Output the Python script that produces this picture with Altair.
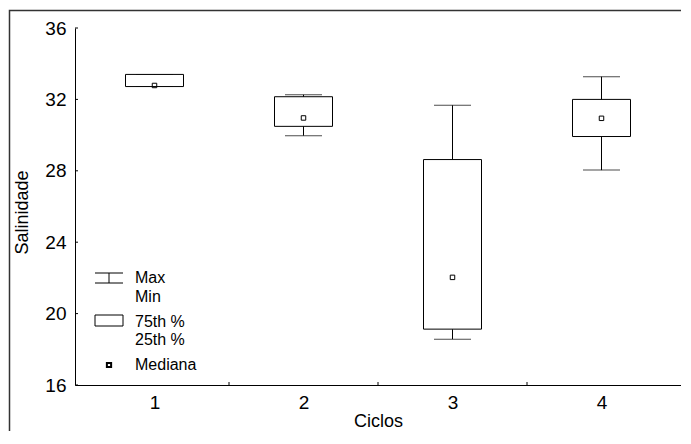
import altair as alt
import pandas as pd

# ---- data ----
ciclos = [1, 2, 3, 4]
maximo = [33.40, 32.26, 31.67, 33.27]
p75 = [33.40, 32.15, 28.63, 32.00]
mediana = [32.78, 30.96, 22.03, 30.94]
p25 = [32.72, 30.49, 19.13, 29.92]
minimo = [32.72, 29.97, 18.57, 28.04]

y_ticks = [16, 20, 24, 28, 32, 36]
x_labels = [1, 2, 3, 4]
x_bounds = [1.5, 2.5, 3.5]
legend_labels = ["Max", "Min", "75th %", "25th %", "Mediana"]

df = pd.DataFrame({"Ciclos": ciclos, "max": maximo, "q75": p75,
                   "med": mediana, "q25": p25, "min": minimo})
df_yt = pd.DataFrame({"v": y_ticks})
df_xb = pd.DataFrame({"b": x_bounds})
one = pd.DataFrame({"a": [0]})

W, H = 606, 357
FONT = "Liberation Sans"

xscale = alt.Scale(domain=[0.5, 4.5], nice=False, zero=False)
yscale = alt.Scale(domain=[16, 36], nice=False, zero=False)
xaxis = alt.Axis(values=x_labels, format="d", ticks=False, grid=False,
                 labelPadding=8, labelFontSize=19, title="Ciclos",
                 titleY=41, titleBaseline="alphabetic")
yaxis = alt.Axis(values=y_ticks, ticks=False, grid=False, labelPadding=9,
                 labelFontSize=19, title="Salinidade",
                 titleX=-53, titleY=184, titleAngle=-90,
                 titleBaseline="middle", titleAlign="center")


def X(f):
    return alt.X(f, scale=xscale, axis=xaxis)


def Y(f):
    return alt.Y(f, scale=yscale, axis=yaxis)


base = alt.Chart(df)

whisker = base.mark_rule(color="black", strokeWidth=1).encode(
    x=X("Ciclos:Q"), y=Y("min:Q"), y2="max:Q")
cap_top = base.mark_tick(orient="horizontal", size=37, thickness=1, color="black").encode(
    x=X("Ciclos:Q"), y=Y("max:Q"))
cap_bot = base.mark_tick(orient="horizontal", size=37, thickness=1, color="black").encode(
    x=X("Ciclos:Q"), y=Y("min:Q"))
box = base.mark_bar(size=58, fill="white", stroke="black", strokeWidth=1).encode(
    x=X("Ciclos:Q"), y=Y("q25:Q"), y2="q75:Q")
med = base.mark_point(shape="square", size=20, filled=False, color="black",
                      strokeWidth=1, opacity=1).encode(
    x=X("Ciclos:Q"), y=Y("med:Q"))

# inward ticks
ytick_marks = alt.Chart(df_yt).mark_rule(color="black").encode(
    y=Y("v:Q"), x=alt.value(0), x2=alt.value(3))
xtick_marks = alt.Chart(df_xb).mark_rule(color="black").encode(
    x=X("b:Q"), y=alt.value(H), y2=alt.value(H - 3))


def hseg(x1, x2, y, color="black", sw=1):
    return alt.Chart(one).mark_rule(color=color, strokeWidth=sw).encode(
        x=alt.value(x1), x2=alt.value(x2), y=alt.value(y))


def vseg(x, y1, y2, color="black", sw=1):
    return alt.Chart(one).mark_rule(color=color, strokeWidth=sw).encode(
        x=alt.value(x), y=alt.value(y1), y2=alt.value(y2))


leg_parts = [
    hseg(20, 48, 245),
    hseg(20, 48, 255),
    vseg(34, 245, 255),
    alt.Chart(one).mark_rect(fill="white", stroke="black", strokeWidth=1).encode(
        x=alt.value(20), x2=alt.value(48), y=alt.value(287), y2=alt.value(298)),
    alt.Chart(one).mark_point(shape="square", size=18, filled=False, color="black",
                              opacity=1).encode(x=alt.value(34), y=alt.value(337)),
]
text_y = [250, 269, 294, 312, 337]
for lab, ty in zip(legend_labels, text_y):
    leg_parts.append(
        alt.Chart(one).mark_text(align="left", baseline="middle", fontSize=16,
                                 font=FONT, color="black").encode(
            x=alt.value(60), y=alt.value(ty), text=alt.value(lab)))

# outer frame (cropped figure border: right and bottom edges fall outside)
frame = alt.Chart(one).mark_rect(fill="transparent", stroke="#333333",
                                 strokeWidth=1.5).encode(
    x=alt.value(-65.5), x2=alt.value(W + 60),
    y=alt.value(-17.5), y2=alt.value(H + 90))

chart = alt.layer(
    frame, whisker, cap_top, cap_bot, box, med, ytick_marks, xtick_marks,
    *leg_parts
).properties(
    width=W, height=H,
    autosize=alt.AutoSizeParams(type="none"),
    padding={"left": 67, "top": 20, "right": 0, "bottom": 46},
).configure_view(stroke=None).configure_axis(
    domainColor="black", domainWidth=1, labelColor="black", titleColor="black",
    labelFont=FONT, titleFont=FONT, titleFontSize=18, titleFontWeight="normal",
).configure_text(font=FONT)

chart.save("out.html", embed_options={"renderer": "svg", "actions": False})
